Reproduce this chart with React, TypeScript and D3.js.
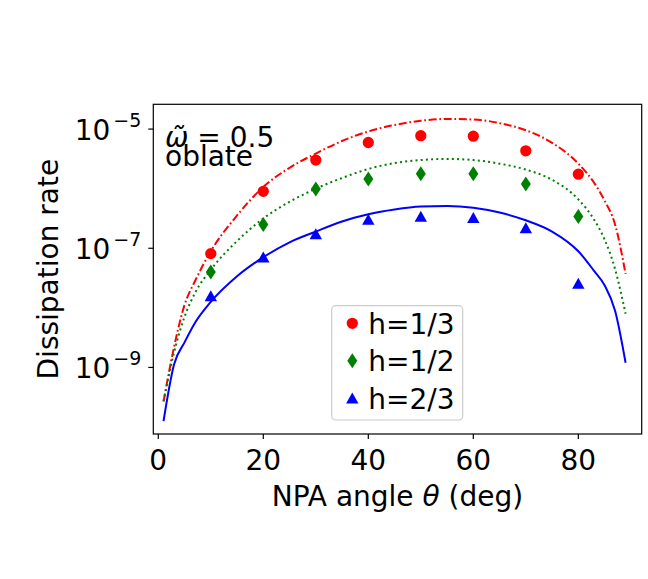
import { useEffect, useRef } from 'react';
import * as d3 from 'd3';

// Ángulos donde se evaluaron las curvas teóricas (deg)
const CURVE_ANGLES = [1, 3, 5, 7, 10, 15, 20, 25, 30, 35, 40, 45, 50, 55, 60, 65, 70, 75, 80, 83, 85, 87, 89];

// Curvas teóricas, una por h
const CURVE_H13 = [
  2.69e-10, 2.19e-9, 1.12e-8, 2.82e-8, 8.91e-8, 3.55e-7, 1.07e-6, 2.24e-6, 3.89e-6, 6.31e-6, 9.12e-6, 1.17e-5,
  1.38e-5, 1.48e-5, 1.45e-5, 1.26e-5, 9.55e-6, 5.89e-6, 2.63e-6, 1.26e-6, 6.31e-7, 2.51e-7, 3.72e-8,
];
const CURVE_H12 = [
  2.69e-10, 1.78e-9, 7.08e-9, 1.78e-8, 4.37e-8, 1.32e-7, 3.16e-7, 6.03e-7, 1.0e-6, 1.51e-6, 2.14e-6, 2.69e-6,
  3.02e-6, 3.16e-6, 3.02e-6, 2.63e-6, 2.09e-6, 1.41e-6, 6.61e-7, 3.02e-7, 1.41e-7, 4.47e-8, 7.94e-9,
];
const CURVE_H23 = [
  1.26e-10, 1.12e-9, 2.63e-9, 5.62e-9, 1.26e-8, 3.39e-8, 7.08e-8, 1.26e-7, 1.91e-7, 2.82e-7, 3.72e-7, 4.47e-7,
  5.01e-7, 5.13e-7, 4.79e-7, 3.98e-7, 2.95e-7, 1.91e-7, 8.91e-8, 4.17e-8, 2.4e-8, 8.91e-9, 1.2e-9,
];

// Puntos de simulación
const SIM_ANGLES = [10, 20, 30, 40, 50, 60, 70, 80];
const SIM_H13 = [8.13e-8, 9.02e-7, 3.02e-6, 5.96e-6, 7.76e-6, 7.59e-6, 4.32e-6, 1.75e-6];
const SIM_H12 = [3.98e-8, 2.51e-7, 9.86e-7, 1.45e-6, 1.78e-6, 1.78e-6, 1.2e-6, 3.42e-7];
const SIM_H23 = [1.58e-8, 7.08e-8, 1.74e-7, 3.02e-7, 3.39e-7, 3.24e-7, 2.19e-7, 2.57e-8];

const LEGEND_LABELS = ['h=1/3', 'h=1/2', 'h=2/3'];
const X_TICKS = [0, 20, 40, 60, 80];
const Y_TICK_EXPONENTS = [-5, -7, -9];

const X_DOMAIN: [number, number] = [-0.95, 92.07];
const Y_DOMAIN: [number, number] = [Math.pow(10, -10.117), Math.pow(10, -4.584)];

const FONT = 'DejaVu Sans, sans-serif';

type Marker = 'circle' | 'diamond' | 'triangle';

interface Series {
  curve: number[];
  sim: number[];
  color: string;
  dash: string | null;
  marker: Marker;
}

const SERIES: Series[] = [
  { curve: CURVE_H13, sim: SIM_H13, color: '#ff0000', dash: '8,2.7,1.7,2.7', marker: 'circle' },
  { curve: CURVE_H12, sim: SIM_H12, color: '#008000', dash: '2,3.2', marker: 'diamond' },
  { curve: CURVE_H23, sim: SIM_H23, color: '#0000ff', dash: null, marker: 'triangle' },
];

const markerPath = (m: Marker) => {
  if (m === 'circle') return d3.symbol(d3.symbolCircle, 100)()!;
  if (m === 'diamond') return 'M0,-7.5L5,0L0,7.5L-5,0Z';
  return 'M0,-5.8L6.2,5.2L-6.2,5.2Z';
};

export default function App() {
  const svgRef = useRef<SVGSVGElement>(null);

  useEffect(() => {
    if (!svgRef.current) return;
    const width = 648;
    const height = 579;
    const left = 153.3;
    const right = 641.7;
    const top = 104.3;
    const bottom = 434;

    const svg = d3.select(svgRef.current);
    svg.selectAll('*').remove();
    svg.attr('width', width).attr('height', height).attr('viewBox', `0 0 ${width} ${height}`);

    const x = d3.scaleLinear().domain(X_DOMAIN).range([left, right]);
    const y = d3.scaleLog().domain(Y_DOMAIN).range([bottom, top]);

    svg.append('rect').attr('width', width).attr('height', height).attr('fill', '#fff');

    svg
      .append('clipPath')
      .attr('id', 'plot-clip')
      .append('rect')
      .attr('x', left)
      .attr('y', top)
      .attr('width', right - left)
      .attr('height', bottom - top);

    const plot = svg.append('g').attr('clip-path', 'url(#plot-clip)');

    const line = d3
      .line<number>()
      .x((_, i) => x(CURVE_ANGLES[i]))
      .y((d) => y(d))
      .curve(d3.curveMonotoneX);

    SERIES.forEach((s) => {
      plot
        .append('path')
        .attr('d', line(s.curve)!)
        .attr('fill', 'none')
        .attr('stroke', s.color)
        .attr('stroke-width', 2)
        .attr('stroke-dasharray', s.dash)
        .attr('stroke-linejoin', 'round');
    });

    SERIES.forEach((s) => {
      plot
        .selectAll(null)
        .data(s.sim)
        .join('path')
        .attr('d', markerPath(s.marker))
        .attr('transform', (d, i) => `translate(${x(SIM_ANGLES[i])},${y(d)})`)
        .attr('fill', s.color);
    });

    // marco
    svg
      .append('rect')
      .attr('x', left)
      .attr('y', top)
      .attr('width', right - left)
      .attr('height', bottom - top)
      .attr('fill', 'none')
      .attr('stroke', '#000')
      .attr('stroke-width', 1.2);

    // eje x
    X_TICKS.forEach((t) => {
      svg
        .append('line')
        .attr('x1', x(t))
        .attr('x2', x(t))
        .attr('y1', bottom)
        .attr('y2', bottom + 5)
        .attr('stroke', '#000')
        .attr('stroke-width', 1.2);
      svg
        .append('text')
        .attr('x', x(t))
        .attr('y', 470)
        .attr('text-anchor', 'middle')
        .style('font-family', FONT)
        .style('font-size', '28px')
        .text(String(t));
    });

    // eje y
    Y_TICK_EXPONENTS.forEach((e) => {
      const ty = y(Math.pow(10, e));
      svg
        .append('line')
        .attr('x1', left - 5)
        .attr('x2', left)
        .attr('y1', ty)
        .attr('y2', ty)
        .attr('stroke', '#000')
        .attr('stroke-width', 1.2);
      const label = svg
        .append('text')
        .attr('x', left - 12)
        .attr('y', ty + 10.5)
        .attr('text-anchor', 'end')
        .style('font-family', FONT)
        .style('font-size', '28px');
      label.append('tspan').text('10');
      label
        .append('tspan')
        .attr('dy', -13)
        .attr('dx', 3)
        .style('font-size', '19px')
        .text(`\u2212${Math.abs(e)}`);
    });

    svg
      .append('text')
      .attr('x', (left + right) / 2)
      .attr('y', 506)
      .attr('text-anchor', 'middle')
      .style('font-family', FONT)
      .style('font-size', '28px')
      .call((t) => {
        t.append('tspan').text('NPA angle ');
        t.append('tspan').style('font-style', 'italic').text('θ');
        t.append('tspan').text(' (deg)');
      });

    svg
      .append('text')
      .attr('transform', `translate(58,${(top + bottom) / 2}) rotate(-90)`)
      .attr('text-anchor', 'middle')
      .style('font-family', FONT)
      .style('font-size', '28px')
      .text('Dissipation rate');

    // anotación
    const ann = svg
      .append('text')
      .attr('x', 165)
      .attr('y', 146.7)
      .style('font-family', FONT)
      .style('font-size', '28px');
    ann.append('tspan').style('font-style', 'italic').text('ω\u0303');
    ann.append('tspan').text(' = 0.5');
    svg
      .append('text')
      .attr('x', 165)
      .attr('y', 165.5)
      .style('font-family', FONT)
      .style('font-size', '28px')
      .text('oblate');

    // leyenda
    const legend = svg.append('g');
    legend
      .append('rect')
      .attr('x', 331.7)
      .attr('y', 305.7)
      .attr('width', 131)
      .attr('height', 114.3)
      .attr('rx', 4)
      .attr('fill', '#fff')
      .attr('fill-opacity', 0.8)
      .attr('stroke', '#cccccc')
      .attr('stroke-width', 1.2);
    const rowY = d3.scaleLinear().domain([0, 2]).range([323.3, 398.3]);
    SERIES.forEach((s, i) => {
      legend
        .append('path')
        .attr('d', markerPath(s.marker))
        .attr('transform', `translate(352.3,${rowY(i)})`)
        .attr('fill', s.color);
      legend
        .append('text')
        .attr('x', 368.3)
        .attr('y', rowY(i) + 10.5)
        .style('font-family', FONT)
        .style('font-size', '28px')
        .text(LEGEND_LABELS[i]);
    });
  }, []);

  return <svg ref={svgRef} style={{ position: 'absolute', left: 0, top: 0 }} />;
}
